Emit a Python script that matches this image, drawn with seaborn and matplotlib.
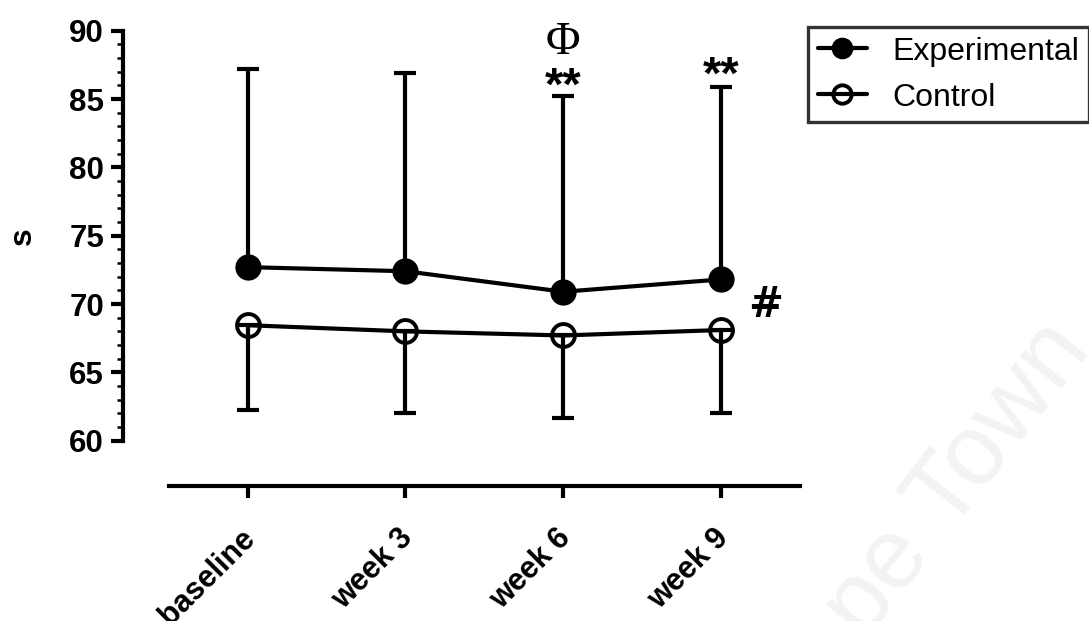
import matplotlib
matplotlib.use("Agg")
import matplotlib.pyplot as plt
from matplotlib.ticker import MultipleLocator
from matplotlib.transforms import ScaledTranslation
import seaborn as sns

# Time points and group summaries (mean, SD)
timepoints = ["baseline", "week 3", "week 6", "week 9"]
exp_mean = [72.7, 72.4, 70.9, 71.8]
exp_sd = [14.5, 14.5, 14.3, 14.05]
ctl_mean = [68.45, 68.0, 67.7, 68.1]
ctl_sd = [6.2, 5.95, 6.05, 6.05]
y_ticks = [60, 65, 70, 75, 80, 85, 90]

sns.set_theme(style="ticks")
plt.rcParams["font.family"] = ["Liberation Sans", "DejaVu Sans"]
plt.rcParams["text.color"] = "black"
plt.rcParams["axes.labelcolor"] = "black"
plt.rcParams["xtick.color"] = "black"
plt.rcParams["ytick.color"] = "black"

W, H = 1089, 621
fig = plt.figure(figsize=(W / 100, H / 100), dpi=100)
ax = fig.add_axes([168.7 / W, 1 - 440.7 / H, (800 - 168.7) / W, 410 / H])

xpos = list(range(len(timepoints)))

# One-sided SD bars: experimental upward, control downward
ax.errorbar(xpos, exp_mean, yerr=[[0] * 4, exp_sd], fmt="none", ecolor="black",
            elinewidth=3, capsize=8, capthick=3, zorder=2)
ax.errorbar(xpos, ctl_mean, yerr=[ctl_sd, [0] * 4], fmt="none", ecolor="black",
            elinewidth=3, capsize=8, capthick=3, zorder=2)

sns.lineplot(x=xpos, y=exp_mean, ax=ax, color="black", linewidth=3, marker="o",
             markersize=16.5, markerfacecolor="black", markeredgecolor="black",
             markeredgewidth=2.4, label="Experimental", zorder=3)
sns.lineplot(x=xpos, y=ctl_mean, ax=ax, color="black", linewidth=3, marker="o",
             markersize=16.5, markerfacecolor="none", markeredgecolor="black",
             markeredgewidth=2.8, label="Control", zorder=3)

ax.set_xlim(-0.5, 3.5)
ax.set_ylim(60, 90)

# Prism-style detached axes
for side in ("top", "right"):
    ax.spines[side].set_visible(False)
ax.spines["left"].set_position(("outward", 32.9))
ax.spines["bottom"].set_position(("outward", 32.4))
for side in ("left", "bottom"):
    ax.spines[side].set_linewidth(3)
    ax.spines[side].set_color("black")

ax.set_yticks(y_ticks)
ax.yaxis.set_minor_locator(MultipleLocator(1))
ax.set_xticks(xpos)
ax.set_xticklabels(timepoints, rotation=45, ha="right", rotation_mode="anchor",
                   fontweight="bold", fontsize=22)
ax.tick_params(axis="y", which="major", length=8.6, width=3, labelsize=22.5,
               pad=5)
ax.tick_params(axis="y", which="minor", length=4.3, width=1.8)
ax.tick_params(axis="x", which="major", length=8.6, width=3, pad=14)
for lab in ax.get_yticklabels():
    lab.set_fontweight("bold")
shift = ScaledTranslation(-8 / 100, -6 / 100, fig.dpi_scale_trans)
for lab in ax.get_xticklabels():
    lab.set_transform(lab.get_transform() + shift)

ax.set_xlabel("")
ax.set_ylabel("s", fontsize=23, fontweight="bold", va="center")
ax.yaxis.set_label_coords(-0.231, 0.5)

# Significance markers
ax.text(2, 89.1, "Φ", family=["Liberation Serif", "DejaVu Serif"], fontsize=34,
        ha="center", va="center", clip_on=False)
ax.text(2, 85.85, "**", fontsize=34, fontweight="bold", ha="center", va="center",
        clip_on=False)
ax.text(3, 86.6, "**", fontsize=34, fontweight="bold", ha="center", va="center",
        clip_on=False)
ax.text(3.28, 69.9, "#", family=["DejaVu Sans"], fontsize=30, fontweight="bold",
        ha="center", va="center", clip_on=False)

if ax.legend_:
    ax.legend_.remove()
handles, labels = ax.get_legend_handles_labels()
leg = fig.legend(handles, labels, loc="upper left",
                 bbox_to_anchor=(808 / W, 1 - 27 / H), bbox_transform=fig.transFigure,
                 borderaxespad=0, frameon=True, fancybox=False, fontsize=23,
                 handlelength=1.55, handletextpad=0.8, labelspacing=0.5,
                 borderpad=0.3, markerscale=0.8)
leg.get_frame().set_edgecolor("black")
leg.get_frame().set_linewidth(2.4)

# Faint background stamp
fig.text(1092 / W, 1 - 350 / H, "Cape Town", fontsize=72, color="#f3f3f3",
         rotation=52, ha="right", va="baseline", rotation_mode="anchor", zorder=0)

fig.savefig("out.png", dpi=100, facecolor="white")
